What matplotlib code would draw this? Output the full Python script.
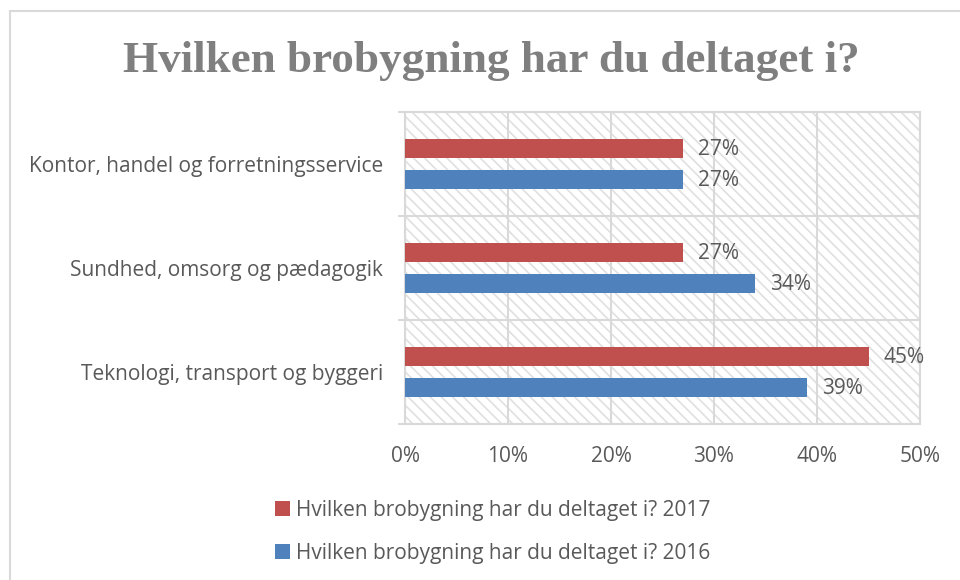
import matplotlib
matplotlib.use("Agg")
import matplotlib.pyplot as plt
from matplotlib.patches import Rectangle
import numpy as np

categories = ["Kontor, handel og forretningsservice",
              "Sundhed, omsorg og pædagogik",
              "Teknologi, transport og byggeri"]
values_2017 = [27, 27, 45]
values_2016 = [27, 34, 39]
series_labels = ["Hvilken brobygning har du deltaget i? 2017",
                 "Hvilken brobygning har du deltaget i? 2016"]
xticks = [0, 10, 20, 30, 40, 50]
title = "Hvilken brobygning har du deltaget i?"

RED = "#C0504D"
BLUE = "#4F81BD"
TXT = "#595959"
GRID = "#d9d9d9"
FS = 15

plt.rcParams['font.family'] = ['Open Sans', 'DejaVu Sans']
plt.rcParams['hatch.linewidth'] = 1.2

fig = plt.figure(figsize=(9.6, 5.8), dpi=100)
W, H = 960, 580
ax = fig.add_axes([405 / W, 1 - 424 / H, (920 - 405) / W, (424 - 112) / H])

# hatched plot area background
bg = Rectangle((0, 0), 1, 1, transform=ax.transAxes, facecolor="white",
               edgecolor="#e0e0e0", hatch="\\\\\\", lw=0, zorder=0)
ax.add_patch(bg)
ax.set_facecolor("white")

y = np.arange(len(categories))
off = 0.15
h = 0.19
ax.barh(y - off, values_2017, height=h, color=RED, label=series_labels[0], zorder=3)
ax.barh(y + off, values_2016, height=h, color=BLUE, label=series_labels[1], zorder=3)

for yi, v in zip(y - off, values_2017):
    ax.annotate(f"{v}%", (v, yi), xytext=(11, -1), textcoords="offset points",
                va="center", ha="left", fontsize=FS, color=TXT)
for yi, v in zip(y + off, values_2016):
    ax.annotate(f"{v}%", (v, yi), xytext=(11, -1), textcoords="offset points",
                va="center", ha="left", fontsize=FS, color=TXT)

ax.set_xlim(0, 50)
ax.set_ylim(len(categories) - 0.5, -0.5)
ax.set_xticks(xticks)
ax.set_xticklabels([f"{t}%" for t in xticks], fontsize=FS, color=TXT)
ax.set_yticks(y)
ax.set_yticklabels(categories, fontsize=FS, color=TXT)
ax.set_yticks(np.arange(len(categories) + 1) - 0.5, minor=True)
ax.tick_params(axis="y", which="major", length=0, pad=16)
ax.tick_params(axis="y", which="minor", length=5, color=GRID, width=1.5)
ax.tick_params(axis="x", length=0, pad=16)

ax.grid(True, axis="x", color=GRID, lw=1.5, zorder=1)
ax.grid(True, axis="y", which="minor", color=GRID, lw=1.5, zorder=1)
ax.set_axisbelow(True)
for s in ax.spines.values():
    s.set_color(GRID)
    s.set_linewidth(1.5)

fig.text(491 / W, 1 - 61 / H, title, ha="center", va="center",
         fontsize=32.5, fontweight="bold", color="#7f7f7f",
         family=["Liberation Serif"])

ax.legend(loc="upper left", bbox_to_anchor=(275 / W, 1 - 500 / H),
          bbox_transform=fig.transFigure, frameon=False, fontsize=FS,
          labelcolor=TXT, handlelength=0.7, handleheight=0.7,
          handletextpad=0.3, labelspacing=1.05, borderpad=0, borderaxespad=0)

fig.patches.append(Rectangle((10 / W, -0.1), 1.2, 1.1 - 11 / H,
                             transform=fig.transFigure, fill=False,
                             edgecolor=GRID, lw=1.5))

fig.savefig("out.png", dpi=100, facecolor="white")
